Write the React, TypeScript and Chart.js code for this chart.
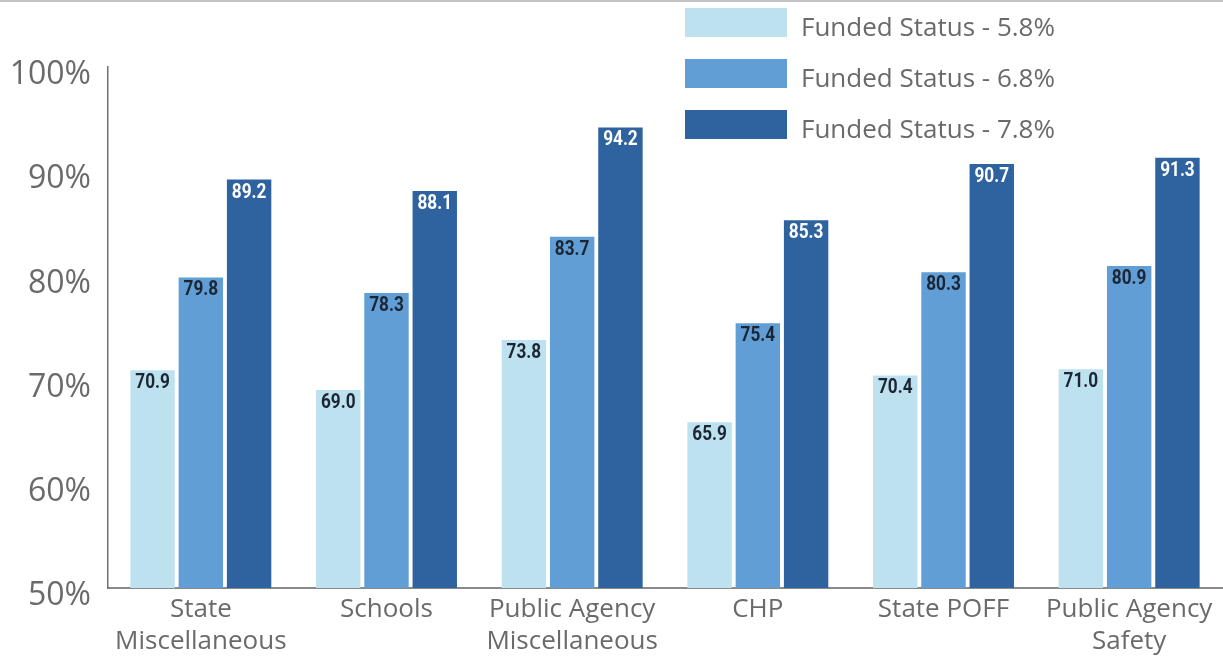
import React, { useEffect, useRef } from "react";
import { Chart, registerables } from "chart.js";

Chart.register(...registerables);

const categories: string[][] = [
  ["State", "Miscellaneous"],
  ["Schools"],
  ["Public Agency", "Miscellaneous"],
  ["CHP"],
  ["State POFF"],
  ["Public Agency", "Safety"],
];
const seriesNames = ["Funded Status - 5.8%", "Funded Status - 6.8%", "Funded Status - 7.8%"];
const funded58 = [70.9, 69.0, 73.8, 65.9, 70.4, 71.0];
const funded68 = [79.8, 78.3, 83.7, 75.4, 80.3, 80.9];
const funded78 = [89.2, 88.1, 94.2, 85.3, 90.7, 91.3];
const seriesColors = ["#bee1f0", "#609ed5", "#2e63a0"];
const valueLabelColors = ["#1b2533", "#1b2533", "#ffffff"];
const yMin = 50;
const yMax = 100;
const yStep = 10;

const FONT = '"Open Sans", "Noto Sans", sans-serif';

const decorPlugin = {
  id: "decor",
  beforeDraw(chart: any) {
    const ctx = chart.ctx;
    ctx.save();
    ctx.fillStyle = "#c4c4c4";
    ctx.fillRect(0, 0, chart.width, 2);
    ctx.restore();
  },
  afterDatasetsDraw(chart: any) {
    const ctx = chart.ctx;
    chart.data.datasets.forEach((ds: any, i: number) => {
      const meta = chart.getDatasetMeta(i);
      meta.data.forEach((bar: any, j: number) => {
        ctx.save();
        ctx.translate(bar.x, bar.y + 13);
        ctx.scale(0.86, 1);
        ctx.textAlign = "center";
        ctx.textBaseline = "middle";
        ctx.font = 'bold 20px Roboto, "Liberation Sans", sans-serif';
        ctx.fillStyle = valueLabelColors[i];
        ctx.fillText(Number(ds.data[j]).toFixed(1), 0, 0);
        ctx.restore();
      });
    });
  },
  afterDraw(chart: any) {
    const ctx = chart.ctx;
    ctx.save();
    ctx.font = `26px ${FONT}`;
    ctx.textBaseline = "alphabetic";
    ctx.textAlign = "left";
    chart.data.datasets.forEach((ds: any, i: number) => {
      const top = 8 + i * 51;
      ctx.fillStyle = ds.backgroundColor;
      ctx.fillRect(685, top, 102, 29);
      ctx.fillStyle = "#6a6a6a";
      ctx.fillText(ds.label, 801, top + 28);
    });
    ctx.restore();
  },
};

export default function App() {
  const canvasRef = useRef<HTMLCanvasElement | null>(null);

  useEffect(() => {
    if (!canvasRef.current) return;
    const datasets = [funded58, funded68, funded78].map((d, i) => ({
      label: seriesNames[i],
      data: d,
      backgroundColor: seriesColors[i],
      borderWidth: 0,
      barPercentage: 0.92,
      categoryPercentage: 0.78,
    }));
    const chart = new Chart(canvasRef.current, {
      type: "bar",
      data: { labels: categories, datasets },
      plugins: [decorPlugin],
      options: {
        animation: false,
        responsive: true,
        maintainAspectRatio: false,
        layout: { padding: { top: 67, left: 0, right: 1, bottom: 0 } },
        plugins: {
          legend: { display: false },
          tooltip: { enabled: false },
        },
        scales: {
          x: {
            grid: { display: false, drawTicks: false },
            border: { display: true, color: "#8a8a8a", width: 2 },
            ticks: {
              color: "#6a6a6a",
              font: { family: FONT, size: 26, lineHeight: 1.25 },
              padding: 5,
              maxRotation: 0,
              autoSkip: false,
            },
            afterFit: (scale: any) => {
              scale.height = 68;
            },
          },
          y: {
            min: yMin,
            max: yMax,
            grid: { display: false, drawTicks: false },
            border: { display: true, color: "#707070", width: 1.5 },
            ticks: {
              stepSize: yStep,
              color: "#6a6a6a",
              font: { family: FONT, size: 32 },
              padding: 17,
              labelOffset: 8,
              callback: (v: any) => `${v}%`,
            },
            afterFit: (scale: any) => {
              scale.width = 108;
            },
          },
        },
      },
    });
    return () => chart.destroy();
  }, []);

  return (
    <div style={{ position: "absolute", left: 0, top: 0, width: 1223, height: 656, background: "#fff" }}>
      <canvas ref={canvasRef} />
    </div>
  );
}
